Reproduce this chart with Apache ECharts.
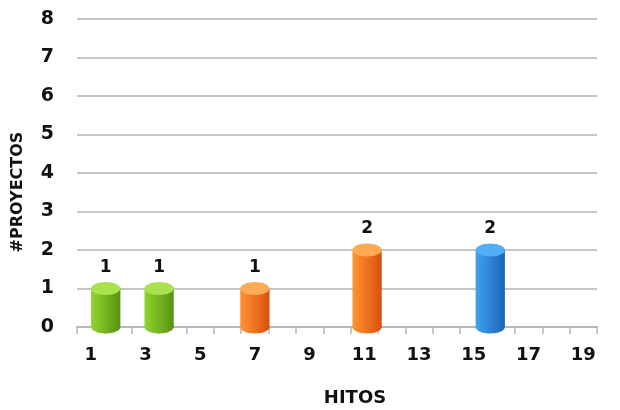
<!DOCTYPE html>
<html>
<head>
<meta charset="utf-8">
<script src="https://cdn.jsdelivr.net/npm/echarts@6/dist/echarts.min.js"></script>
<style>
html,body{margin:0;padding:0;background:#fff;}
#chart{width:620px;height:410px;}
</style>
</head>
<body>
<div id="chart"></div>
<script>
// ---- data ----
const categories = ['1','2','3','4','5','6','7','8','9','10','11','12','13','14','15','16','17','18','19'];
const yTicks = [0,1,2,3,4,5,6,7,8];
const greenHitos = [1.55, 3.5];
const greenProyectos = [1, 1];
const orangeHitos = [7, 11.1];
const orangeProyectos = [1, 2];
const blueHitos = [15.6];
const blueProyectos = [2];
const xTitle = 'HITOS';
const yTitle = '#PROYECTOS';

// ---- styles ----
const FONT = '"DejaVu Sans"';
const palettes = {
  green:  {left:'#92d432', right:'#57930f', top:'#a9e24e'},
  orange: {left:'#ff9434', right:'#d9500f', top:'#ffaa55'},
  blue:   {left:'#40a2f2', right:'#1b66b6', top:'#52aef6'}
};

function zip(xs, ys){ return xs.map((x,i)=>[x, ys[i]]); }

function cylinder(pal){
  return function(params, api){
    const x = api.value(0), v = api.value(1);
    const top = api.coord([x, v]);
    const base = api.coord([x, 0]);
    const w = api.size([1, 0])[0] * 1.07;
    const rx = w / 2, ry = 6.5;
    const grad = new echarts.graphic.LinearGradient(0,0,1,0,[
      {offset:0,color:pal.left},{offset:1,color:pal.right}]);
    return {
      type:'group',
      children:[
        {type:'ellipse', shape:{cx:top[0], cy:base[1], rx:rx, ry:ry}, style:{fill:grad}},
        {type:'rect', shape:{x:top[0]-rx, y:top[1], width:w, height:base[1]-top[1]}, style:{fill:grad}},
        {type:'ellipse', shape:{cx:top[0], cy:top[1], rx:rx, ry:ry}, style:{fill:pal.top}},
        {type:'text', x:top[0], y:top[1]-ry-6, style:{text:String(v), fill:'#111', font:'bold 17px ' + FONT, align:'center', verticalAlign:'bottom'}}
      ]
    };
  };
}

const chart = echarts.init(document.getElementById('chart'), null, {renderer:'canvas'});
chart.setOption({
  animation:false,
  backgroundColor:'#fff',
  grid:{left:77, right:23, top:19, bottom:83, containLabel:false},
  xAxis:[
    {type:'category', data:categories, boundaryGap:true,
     axisLine:{lineStyle:{color:'#b8b8b8', width:2}},
     axisTick:{show:true, interval:0, length:7, lineStyle:{color:'#b8b8b8', width:1.5}},
     axisLabel:{interval:1, color:'#111', fontFamily:'DejaVu Sans', fontWeight:'bold', fontSize:18, margin:19},
     splitLine:{show:false}},
    {type:'value', min:0.5, max:19.5, show:false, splitLine:{show:false}}
  ],
  yAxis:{type:'value', min:yTicks[0], max:yTicks[yTicks.length-1], interval:1,
    axisLine:{show:false}, axisTick:{show:false},
    axisLabel:{color:'#111', fontFamily:'DejaVu Sans', fontWeight:'bold', fontSize:19, margin:23},
    splitLine:{lineStyle:{color:'#c6c6c6', width:2}}},
  graphic:[
    {type:'text', x:355, y:398, style:{text:xTitle, fill:'#111', font:'bold 18px ' + FONT, align:'center', verticalAlign:'middle'}},
    {type:'text', x:18, y:192, rotation:Math.PI/2, style:{text:yTitle, fill:'#111', font:'bold 16px ' + FONT, align:'center', verticalAlign:'middle'}}
  ],
  series:[
    {type:'custom', xAxisIndex:1, renderItem:cylinder(palettes.green), data:zip(greenHitos, greenProyectos), z:5},
    {type:'custom', xAxisIndex:1, renderItem:cylinder(palettes.orange), data:zip(orangeHitos, orangeProyectos), z:5},
    {type:'custom', xAxisIndex:1, renderItem:cylinder(palettes.blue), data:zip(blueHitos, blueProyectos), z:5}
  ]
});
</script>
</body>
</html>
